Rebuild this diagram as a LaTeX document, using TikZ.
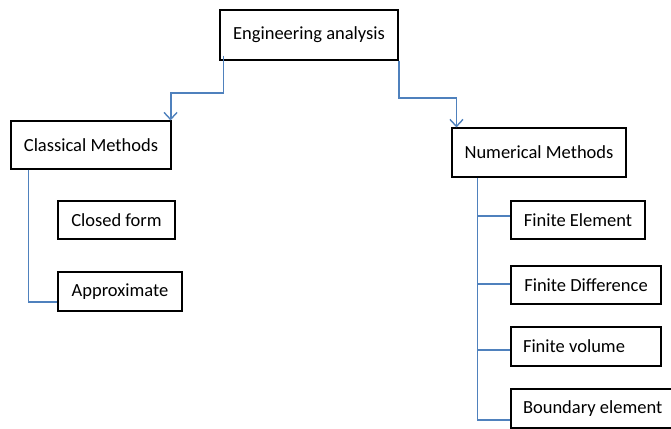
\documentclass[tikz,border=0pt]{standalone}
\usepackage{fontspec}
\setmainfont{Carlito}
\usetikzlibrary{arrows.meta,calc}
\definecolor{linkblue}{HTML}{4F81BD}
\tikzset{
  box/.style={draw=black, line width=1.1pt, fill=white, inner sep=0pt, font=\fontsize{18.5}{22}\selectfont},
  link/.style={draw=linkblue, line width=1.9pt},
  arrowlink/.style={link, -{Straight Barb[length=7pt,width=13pt,line width=1.4pt]}}
}
\begin{document}
\begin{tikzpicture}[x=1pt,y=-1pt]
\useasboundingbox (0,0) rectangle (671,428);
\clip (0,0) rectangle (671,428);
\node[box, minimum width=178pt, minimum height=50pt] (ea) at (309,35) {Engineering analysis};
\node[box, minimum width=160pt, minimum height=48pt] (cm) at (91,145) {Classical Methods};
\node[box, minimum width=117pt, minimum height=38pt] (cf) at (116.5,220) {Closed form};
\node[box, minimum width=124pt, minimum height=39pt] (ap) at (120,291.5) {Approximate};
\node[box, minimum width=174pt, minimum height=49pt] (nm) at (539,152.5) {Numerical Methods};
\node[box, minimum width=134pt, minimum height=38pt] (fe) at (578,220) {Finite Element};
\node[box, minimum width=150pt, minimum height=38pt] (fd) at (586,285) {Finite Difference};
\node[box, minimum width=150pt, minimum height=39pt] (fv) at (586,346.5) {\makebox[126pt][l]{Finite volume}};
\node[box, minimum width=164pt, minimum height=39pt] (be) at (593,408.5) {\makebox[140pt][l]{Boundary element}};
% top arrows
\coordinate (ls) at ($(ea.south west)+(4,-5)$);
\coordinate (rs) at (ea.south east);
\draw[arrowlink] (ls) -- ++(0,37) -| ([xshift=-1pt]cm.north east);
\draw[arrowlink] (rs) -- ++(0,37) -| ([xshift=5pt]nm.north west);
% classical
\coordinate (cmd) at ($(cm.south west)+(18,0)$);
\draw[link] (cmd) |- ([yshift=-10.5pt]ap.west);
% numerical
\coordinate (nmd) at ($(nm.south west)+(26,0)$);
\draw[link] (nmd) |- ([yshift=-11.5pt]be.west);
\draw[link] (nmd |- fe.west) ++(0,-4) -- ([yshift=4pt]fe.west);
\draw[link] (nmd |- fd.west) ++(0,-1) -- ([yshift=1pt]fd.west);
\draw[link] (nmd |- fv.west) ++(0,3.5) -- ([yshift=-3.5pt]fv.west);
\end{tikzpicture}
\end{document}
